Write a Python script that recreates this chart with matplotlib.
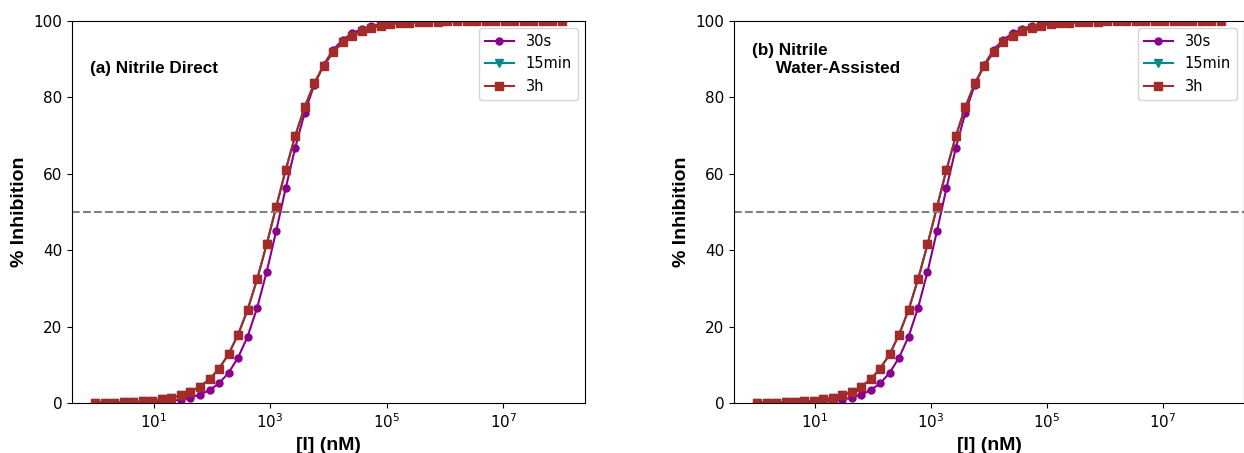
import numpy as np
import matplotlib
matplotlib.use("Agg")
import matplotlib.pyplot as plt

# concentrations (nM): 50-point log dilution series from 1 nM to 1e8 nM
conc = np.logspace(0, 8, 50)

inh_30s = [0.02, 0.02, 0.04, 0.06, 0.09, 0.15, 0.23, 0.36, 0.57, 0.89,
           1.39, 2.17, 3.36, 5.16, 7.9, 11.9, 17.4, 24.9, 34.3, 45.0,
           56.2, 66.8, 76.0, 83.3, 88.6, 92.5, 95.1, 96.8, 97.9, 98.7,
           99.2, 99.45, 99.65, 99.8, 99.85, 99.9, 99.95, 99.95, 99.97, 99.98,
           99.99, 99.99, 100.0, 100.0, 100.0, 100.0, 100.0, 100.0, 100.0, 100.0]

inh_3h = [0.06, 0.09, 0.13, 0.19, 0.28, 0.42, 0.62, 0.92, 1.35, 1.99,
          2.94, 4.29, 6.24, 9.0, 12.8, 17.9, 24.4, 32.4, 41.5, 51.3,
          61.0, 69.9, 77.5, 83.7, 88.3, 91.9, 94.4, 96.1, 97.4, 98.2,
          98.8, 99.2, 99.4, 99.6, 99.7, 99.8, 99.85, 99.9, 99.9, 99.93,
          99.95, 99.96, 99.97, 99.98, 99.99, 99.99, 100.0, 100.0, 100.0, 100.0]

inh_15min = list(inh_3h)

panels = [
    {"label": "(a) Nitrile Direct", "ty": 0.895, "s30": inh_30s, "m15": inh_15min, "h3": inh_3h},
    {"label": "(b) Nitrile\n     Water-Assisted", "ty": 0.942, "s30": inh_30s, "m15": inh_15min, "h3": inh_3h},
]

W, H = 1244, 453
fig = plt.figure(figsize=(W / 100, H / 100), dpi=100)
rects = [
    (72 / W, (H - 403) / H, 513 / W, 382 / H),
    (734 / W, (H - 403) / H, 510 / W, 382 / H),
]

bold = {"family": ["Liberation Sans", "DejaVu Sans"], "weight": "bold"}

for rect, p in zip(rects, panels):
    ax = fig.add_axes(rect)
    ax.plot(conc, p["s30"], color="#8B008B", marker="o", ms=5, lw=1.5, label="30s")
    ax.plot(conc, p["m15"], color="#008B8B", marker="v", ms=6, lw=1.5, label="15min")
    ax.plot(conc, p["h3"], color="#A52A2A", marker="s", ms=6, lw=1.5, label="3h")
    ax.axhline(50, color="gray", ls="--", lw=1.5)
    ax.set_xscale("log")
    ax.set_xticks([1e1, 1e3, 1e5, 1e7])
    ax.xaxis.set_minor_locator(matplotlib.ticker.NullLocator())
    ax.set_ylim(0, 100)
    ax.set_yticks([0, 20, 40, 60, 80, 100])
    ax.tick_params(labelsize=11)
    ax.set_xlabel("[I] (nM)", fontsize=14, **bold)
    ax.set_ylabel("% Inhibition", fontsize=14, **bold)
    ax.text(0.035, p["ty"], p["label"], transform=ax.transAxes, fontsize=12.3,
            va="top", ha="left", **bold)
    ax.legend(loc="upper right", fontsize=10.5)

fig.savefig("out.png", dpi=100)
